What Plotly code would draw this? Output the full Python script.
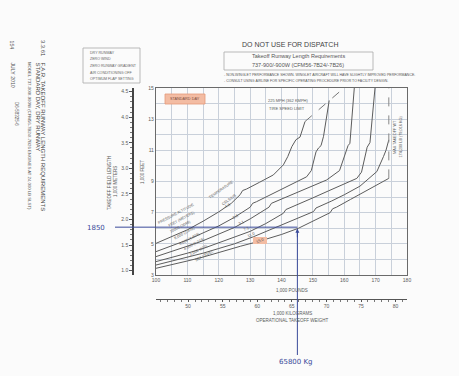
import plotly.graph_objects as go

# ---------------- data ----------------
# Operational takeoff weight in 1,000 lb, field length in 1,000 ft
ALT_LABELS = ["10000 (3048)", "8,000 (2,438)", "6,000 (1,829)", "4,000 (1,219)", "2,000 (610)", "SEA LEVEL"]
TEMP_LABELS = ["-4.8", "-0.8", "3.1", "7.1", "11.0", "15.0"]

c1_x = [100, 105, 110, 115, 120, 124, 126.8, 127.6, 128.9, 133, 137.4, 140.6, 142, 143.3, 144.6, 145.9, 146.7, 147.5]
c1_y = [5.03, 5.45, 5.9, 6.45, 7.05, 7.6, 8.15, 8.42, 8.52, 8.95, 9.42, 10.07, 10.6, 11.24, 11.68, 11.85, 12.3, 12.85]

c2_x = [100, 105, 110, 115, 120, 125, 130, 130.8, 132, 136, 140, 144, 148, 149.5, 150.3, 151, 151.8, 152.6, 153.4, 155.2]
c2_y = [4.5, 4.85, 5.25, 5.7, 6.15, 6.7, 7.35, 7.6, 7.7, 8.1, 8.5, 8.9, 9.3, 9.7, 10.3, 10.9, 11.15, 11.3, 11.9, 14.2]

c3_x = [100, 105, 110, 115, 120, 125, 130, 136, 136.8, 138, 142, 146, 150, 154.4, 158.5, 159.6, 160.5, 161.2, 161.8, 163.2]
c3_y = [4.18, 4.5, 4.85, 5.2, 5.6, 6.05, 6.6, 7.35, 7.6, 7.7, 8.05, 8.4, 8.75, 9.1, 9.7, 10.4, 11.0, 11.3, 11.45, 15.0]

c4_x = [100, 105, 110, 115, 120, 125, 130, 135, 140.6, 141.4, 142.6, 146, 150, 155, 160, 164, 165.5, 166.5, 167.3, 168.2, 169.8]
c4_y = [3.86, 4.12, 4.4, 4.7, 5.05, 5.4, 5.8, 6.3, 6.96, 7.2, 7.3, 7.6, 7.95, 8.4, 8.85, 9.2, 9.6, 10.5, 11.2, 11.5, 15.0]

c5_x = [100, 105, 110, 115, 120, 125, 131, 140, 150.2, 151, 152.2, 156, 160, 165, 170.4, 171.5, 172.5, 173.3, 174.2]
c5_y = [3.64, 3.88, 4.12, 4.4, 4.7, 5.0, 5.45, 6.2, 7.07, 7.3, 7.4, 7.75, 8.15, 8.7, 9.64, 10.1, 10.6, 11.0, 11.67]

c6_x = [100, 105, 110, 115, 120, 127, 132.6, 140, 145.4, 150, 155.5, 156.3, 157.5, 162, 167, 174.2]
c6_y = [3.43, 3.65, 3.9, 4.15, 4.45, 4.85, 5.15, 5.6, 6.0, 6.45, 7.0, 7.25, 7.35, 7.85, 8.4, 9.2]

tire_x = [147.5, 155.2, 159.9]
tire_y = [12.85, 14.2, 15.0]

MTOW_KLB = 174.2
X_TICKS_LB = [100, 110, 120, 130, 140, 150, 160, 170, 180]
Y_TICKS_FT = [3, 5, 7, 9, 11, 13, 15]
Y_TICKS_M = [1.0, 1.5, 2.0, 2.5, 3.0, 3.5, 4.0, 4.5]
X_TICKS_KG = [50, 55, 60, 65, 70, 75, 80]

PICK_M = 1850      # handwritten field length, m
PICK_T = 65.8      # handwritten weight, 1,000 kg

LB_PER_KG = 1 / 0.45359237
FT_PER_M = 1 / 0.3048

W, H = 459, 376
def px(x):
    return x / W
def py(y):
    return 1 - y / H

CURVE = "#5c5c5c"
GRID = "#c9d0da"
TXT = "#5a5a5a"
BLUE = "#3a4a9a"
FONT = "Liberation Sans, Arial, sans-serif"

fig = go.Figure()
for xs, ys in [(c1_x, c1_y), (c2_x, c2_y), (c3_x, c3_y), (c4_x, c4_y), (c5_x, c5_y), (c6_x, c6_y)]:
    fig.add_trace(go.Scatter(x=xs, y=ys, mode="lines", line=dict(color=CURVE, width=1), hoverinfo="skip"))

fig.add_trace(go.Scatter(x=tire_x, y=tire_y, mode="lines", line=dict(color="#777", width=1, dash="dash"), hoverinfo="skip"))
fig.add_trace(go.Scatter(x=[MTOW_KLB, MTOW_KLB], y=[c6_y[-1], 15], mode="lines",
                         line=dict(color="#888", width=1, dash="dash"), hoverinfo="skip"))

# invisible traces to carry the secondary scales
fig.add_trace(go.Scatter(x=[100, 180], y=[Y_TICKS_M[0], Y_TICKS_M[-1]], yaxis="y2", mode="markers",
                         marker=dict(opacity=0), hoverinfo="skip"))
fig.add_trace(go.Scatter(x=[X_TICKS_KG[0], X_TICKS_KG[-1]], y=[3, 15], xaxis="x2", mode="markers",
                         marker=dict(opacity=0), hoverinfo="skip"))

xd = [156 / W, 407 / W]
yd = [py(275), py(88)]

fig.update_layout(
    template="none",
    width=W, height=H, margin=dict(l=0, r=0, t=0, b=0, autoexpand=False),
    paper_bgcolor="#fbfbfb", plot_bgcolor="#fbfbfb", showlegend=False,
    font=dict(family=FONT, color=TXT, size=5),
    xaxis=dict(domain=xd, range=[100, 180], tickmode="array", tickvals=X_TICKS_LB, automargin=False,
               showgrid=True, gridcolor=GRID, gridwidth=1,
               minor=dict(dtick=5, tick0=100, showgrid=True, gridcolor=GRID, gridwidth=1),
               showline=True, mirror=True, linecolor="#6a6a6a", linewidth=1.3,
               zeroline=False, ticks="", tickfont=dict(size=5, color=TXT)),
    yaxis=dict(domain=yd, range=[3, 15], tickmode="array", tickvals=Y_TICKS_FT, automargin=False,
               showgrid=True, gridcolor=GRID, gridwidth=1,
               minor=dict(dtick=1, tick0=3, showgrid=True, gridcolor=GRID, gridwidth=1),
               showline=True, mirror=True, linecolor="#6a6a6a", linewidth=1.3,
               zeroline=False, ticks="", tickfont=dict(size=5, color=TXT)),
    yaxis2=dict(overlaying="y", anchor="free", position=133 / W, side="left", automargin=False,
                range=[3 * 0.3048, 15 * 0.3048], tickmode="array", tickvals=Y_TICKS_M,
                ticktext=[f"{v:.1f}" for v in Y_TICKS_M], ticks="outside", ticklen=3, tickcolor="#555",
                minor=dict(dtick=0.1, ticks="outside", ticklen=2, tickcolor="#777"),
                showline=True, linecolor="#444", linewidth=1.5, showgrid=False, zeroline=False,
                tickfont=dict(size=5, color=TXT)),
    xaxis2=dict(overlaying="x", anchor="free", position=py(299), side="bottom", automargin=False,
                range=[100 / LB_PER_KG, 180 / LB_PER_KG], tickmode="array", tickvals=X_TICKS_KG,
                ticks="outside", ticklen=2, tickcolor="#555",
                minor=dict(dtick=1, ticks="outside", ticklen=2, tickcolor="#777"),
                showline=True, linecolor="#555", linewidth=1.3, showgrid=False, zeroline=False,
                tickfont=dict(size=5, color=TXT)),
)

def ann(x, y, text, size=5, angle=0, color=TXT, xanchor="center", yanchor="middle", **kw):
    fig.add_annotation(x=px(x), y=py(y), xref="paper", yref="paper", text=text, showarrow=False,
                       textangle=angle, font=dict(size=size, color=color, family=kw.pop("family", FONT)),
                       xanchor=xanchor, yanchor=yanchor, **kw)

# header
ann(290, 45, "DO NOT USE FOR DISPATCH", size=7, color="#444")
fig.add_shape(type="rect", xref="paper", yref="paper", x0=px(224), x1=px(373), y0=py(52), y1=py(70),
              line=dict(color="#aaa", width=0.8))
ann(298, 56.5, "Takeoff Runway Length Requirements", size=5.5, color="#555")
ann(298, 64.5, "737-900/-900W (CFM56-7B24/-7B26)", size=5.5, color="#555")
ann(222, 75, "- NON-WINGLET PERFORMANCE SHOWN. WINGLET AIRCRAFT WILL HAVE SLIGHTLY IMPROVED PERFORMANCE.",
    size=3.5, xanchor="left", color="#555")
ann(222, 81, "- CONSULT USING AIRLINE FOR SPECIFIC OPERATING PROCEDURE PRIOR TO FACILITY DESIGN.",
    size=3.5, xanchor="left", color="#555")

# conditions box
fig.add_shape(type="rect", xref="paper", yref="paper", x0=px(83), x1=px(140), y0=py(48), y1=py(83),
              line=dict(color="#aaa", width=0.8))
for i, t in enumerate(["DRY RUNWAY", "ZERO WIND", "ZERO RUNWAY GRADIENT", "AIR CONDITIONING OFF", "OPTIMUM FLAP SETTING"]):
    ann(88, 53 + i * 6.5, t, size=3.6, xanchor="left", color="#666")

# rotated page header on the left
ann(43, 38, "3.3.61", size=5.8, angle=90, yanchor="top", color="#444")
ann(43, 60, "F.A.R. TAKEOFF RUNWAY LENGTH REQUIREMENTS", size=6, angle=90, yanchor="top", color="#444")
ann(37, 60, "STANDARD DAY, DRY RUNWAY", size=6, angle=90, yanchor="top", color="#444")
ann(30, 60, "MODEL 737-900/-900W (CFM56-7B24/-7B26 ENGINES AT 24,000 LB SLST)", size=4.3, angle=90,
    yanchor="top", color="#555")
ann(17, 100, "D6-58325-6", size=4.5, angle=90, yanchor="top", color="#555")
ann(12, 38, "154", size=5.2, angle=90, yanchor="top", color="#555")
ann(12, 60, "JULY 2010", size=5.2, angle=90, yanchor="top", color="#555")

# axis titles
ann(143, 172, "1,000 FEET", size=4.5, angle=-90)
ann(109, 183, "TAKEOFF FIELD LENGTH", size=4.5, angle=-90)
ann(115, 181, "1,000 METERS", size=4.5, angle=-90)
ann(292, 290, "1,000 POUNDS", size=4.5)
ann(292, 313, "1,000 KILOGRAMS", size=4.5)
ann(292, 320, "OPERATIONAL TAKEOFF WEIGHT", size=4.5)

# in-plot labels
fig.add_shape(type="rect", xref="paper", yref="paper", x0=px(165), x1=px(205), y0=py(94), y1=py(104),
              fillcolor="#f3bca3", line=dict(color="#e59a78", width=0.8))
ann(185, 99, "STANDARD DAY", size=3.8, color="#7a4a3a")
ann(288, 101, "225 MPH (362 KMPH)", size=4)
ann(287, 108, "TIRE SPEED LIMIT", size=4)
ann(395, 137, "MAX TAKEOFF WT", size=3.8, angle=-90)
ann(400.5, 137, "174,200 LB (79,016 KG)", size=3.8, angle=-90)

ann(176, 214, "PRESSURE ALTITUDE", size=3.8, angle=-28)
ann(182, 219, "FEET (METERS)", size=3.8, angle=-28)
for i, t in enumerate(ALT_LABELS):
    ann(180 + i * 4.8, 227 + i * 5.8, t, size=3.8, angle=-28)

ann(221, 190, "TEMPERATURE", size=3.8, angle=-35)
ann(229, 200, "CELSIUS", size=3.8, angle=-35)
fig.add_shape(type="rect", xref="paper", yref="paper", x0=px(253), x1=px(267), y0=py(237), y1=py(244),
              fillcolor="#f3bca3", line=dict(width=0))
tpos = [(227, 205), (235, 216), (241, 222), (246, 228), (251, 234), (260, 240.5)]
for (x, y), t in zip(tpos, TEMP_LABELS):
    ann(x, y, t, size=4, angle=-25)

# handwritten reading
pick_kft = PICK_M * FT_PER_M / 1000
pick_klb = PICK_T * LB_PER_KG
fig.add_shape(type="line", xref="paper", yref="y", x0=px(115), x1=px(156), y0=pick_kft, y1=pick_kft,
              line=dict(color=BLUE, width=1))
fig.add_shape(type="line", xref="x", yref="y", x0=100, x1=pick_klb, y0=pick_kft, y1=pick_kft,
              line=dict(color=BLUE, width=1))
fig.add_shape(type="line", xref="x", yref="paper", x0=pick_klb, x1=pick_klb, y0=py(355), y1=py(229),
              line=dict(color=BLUE, width=1))
fig.add_annotation(x=pick_klb, y=pick_kft - 0.1, xref="x", yref="y", ax=0, ay=10, text="",
                   showarrow=True, arrowhead=2, arrowsize=0.8, arrowwidth=1, arrowcolor=BLUE)
ann(96, 228, "1850", size=7, color=BLUE, family="DejaVu Sans")
ann(296, 362, "65800 Kg", size=7, color=BLUE, family="DejaVu Sans")

fig.write_html("out.html", config={"displayModeBar": False},
               post_script="document.body.style.margin='0';document.body.style.background='#fbfbfb';")
